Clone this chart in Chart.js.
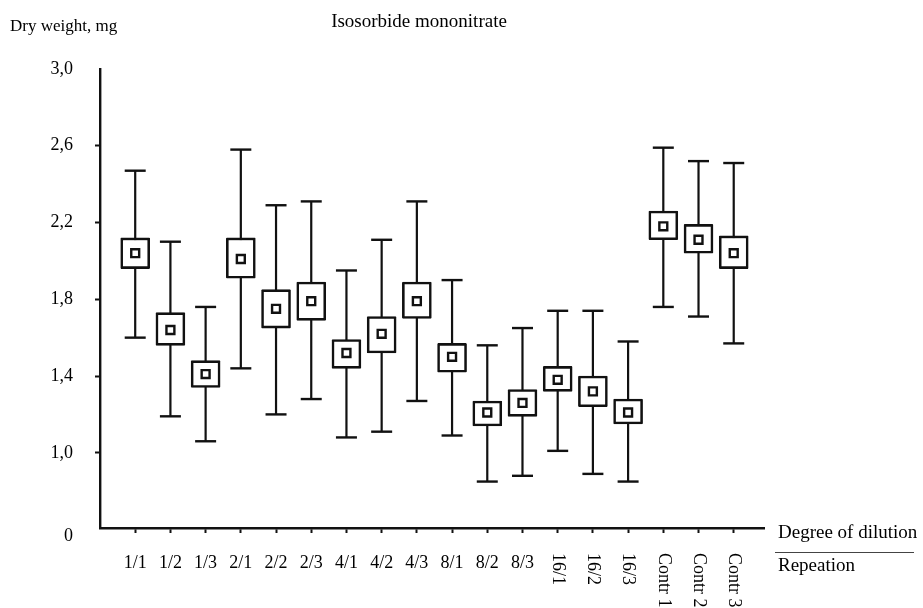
<!DOCTYPE html>
<html>
<head>
<meta charset="utf-8">
<script src="https://cdn.jsdelivr.net/npm/chart.js@4.4.0/dist/chart.umd.min.js"></script>
<style>body { margin: 0; background: #fff; }</style>
</head>
<body>
<canvas id="myChart" width="923" height="608"></canvas>
<script>
// Les donnees (poids sec, mg)
const groups = ["1/1", "1/2", "1/3", "2/1", "2/2", "2/3", "4/1", "4/2", "4/3", "8/1", "8/2", "8/3", "16/1", "16/2", "16/3", "Contr 1", "Contr 2", "Contr 3"]
const means = [2.04, 1.64, 1.41, 2.01, 1.75, 1.79, 1.52, 1.62, 1.79, 1.50, 1.21, 1.26, 1.38, 1.32, 1.21, 2.18, 2.11, 2.04]
const boxLow = [1.96, 1.56, 1.34, 1.91, 1.65, 1.69, 1.44, 1.52, 1.70, 1.42, 1.14, 1.19, 1.32, 1.24, 1.15, 2.11, 2.04, 1.96]
const boxHigh = [2.12, 1.73, 1.48, 2.12, 1.85, 1.89, 1.59, 1.71, 1.89, 1.57, 1.27, 1.33, 1.45, 1.40, 1.28, 2.26, 2.19, 2.13]
const whiskerLow = [1.60, 1.19, 1.06, 1.44, 1.20, 1.28, 1.08, 1.11, 1.27, 1.09, 0.85, 0.88, 1.01, 0.89, 0.85, 1.76, 1.71, 1.57]
const whiskerHigh = [2.47, 2.10, 1.76, 2.58, 2.29, 2.31, 1.95, 2.11, 2.31, 1.90, 1.56, 1.65, 1.74, 1.74, 1.58, 2.59, 2.52, 2.51]
const yTickValues = [0.566, 1.0, 1.4, 1.8, 2.2, 2.6, 3.0] // le premier = "0" (axe coupe)
const rotatedFrom = 12 // a partir de "16/1" les etiquettes sont verticales

const serif = '"Liberation Serif", "Times New Roman", serif'
const xs = groups.map((g, i) => i + 1)

// Moustaches : segments separes par des null
const whiskerData = []
const capData = []
xs.forEach((x, i) => {
    whiskerData.push({ x: x, y: whiskerLow[i] }, { x: x, y: whiskerHigh[i] }, { x: x, y: null })
    capData.push({ x: x, y: whiskerLow[i] }, { x: x, y: whiskerHigh[i] })
})
const boxData = xs.map((x, i) => ({ x: x, y: [boxLow[i], boxHigh[i]] }))
const meanData = xs.map((x, i) => ({ x: x, y: means[i] }))

// Textes dessines a la main (titre, legendes d'axes, etiquettes verticales)
const textPlugin = {
    id: "texts",
    afterDraw(chart) {
        const ctx = chart.ctx
        const xScale = chart.scales.x
        ctx.save()
        ctx.fillStyle = "#000"
        ctx.textBaseline = "middle"
        ctx.textAlign = "left"
        ctx.font = "17px " + serif
        ctx.fillText("Dry weight, mg", 10, 27)
        ctx.font = "19px " + serif
        ctx.textAlign = "center"
        ctx.fillText("Isosorbide mononitrate", 419, 22)
        ctx.textAlign = "left"
        ctx.fillText("Degree of dilution", 778, 533)
        ctx.fillText("Repeation", 778, 566)
        ctx.strokeStyle = "#444"
        ctx.lineWidth = 1
        ctx.beginPath()
        ctx.moveTo(775, 552.5)
        ctx.lineTo(914, 552.5)
        ctx.stroke()
        // etiquettes tournees
        ctx.font = "18px " + serif
        for (let i = rotatedFrom; i < groups.length; i++) {
            const px = xScale.getPixelForValue(xs[i])
            ctx.save()
            ctx.translate(px, 553)
            ctx.rotate(Math.PI / 2)
            ctx.textAlign = "left"
            ctx.fillText(groups[i], 0, 0)
            ctx.restore()
        }
        ctx.restore()
    }
}

const graph = document.getElementById("myChart")
// eslint-disable-next-line no-undef
new Chart(graph, {
    type: "bar",
    data: {
        datasets: [{
            type: "line",
            data: whiskerData,
            borderColor: "#111",
            borderWidth: 2.2,
            pointRadius: 0,
            spanGaps: false,
            order: 4
        }, {
            type: "line",
            data: capData,
            showLine: false,
            pointStyle: "line",
            pointRadius: 10.5,
            pointBorderWidth: 2.4,
            pointBorderColor: "#111",
            order: 3
        }, {
            type: "bar",
            data: boxData,
            backgroundColor: "#fff",
            borderColor: "#111",
            borderWidth: 2.6,
            borderSkipped: false,
            borderRadius: 1,
            barThickness: 29,
            order: 2
        }, {
            type: "line",
            data: meanData,
            showLine: false,
            pointStyle: "rect",
            pointRadius: 5.6,
            pointBorderWidth: 2.4,
            pointBorderColor: "#111",
            pointBackgroundColor: "#fff",
            order: 1
        }]
    },
    options: {
        responsive: false,
        animation: false,
        layout: { padding: { top: 69, right: 159, left: 0, bottom: 0 } },
        plugins: {
            legend: { display: false },
            tooltip: { enabled: false }
        },
        scales: {
            x: {
                type: "linear",
                min: 0,
                max: 18.86,
                offset: false,
                afterBuildTicks: scale => { scale.ticks = xs.map(v => ({ value: v })) },
                afterFit: scale => { scale.height = 80 },
                grid: { offset: false, drawOnChartArea: false, drawTicks: true, tickLength: 5, tickWidth: 2, tickColor: "#111" },
                border: { color: "#111", width: 2.4 },
                ticks: {
                    autoSkip: false,
                    maxRotation: 0,
                    minRotation: 0,
                    padding: 19,
                    color: "#000",
                    font: { family: serif, size: 18 },
                    callback: value => {
                        const i = Math.round(value) - 1
                        return i < rotatedFrom ? groups[i] : ""
                    }
                }
            },
            y: {
                type: "linear",
                min: 0.608,
                max: 3.0,
                afterBuildTicks: scale => { scale.ticks = yTickValues.map(v => ({ value: v })) },
                afterFit: scale => { scale.width = 100 },
                grid: {
                    drawOnChartArea: false,
                    drawTicks: true,
                    tickLength: 5,
                    tickWidth: 2,
                    tickColor: ctx => (ctx.tick && (ctx.tick.value < 1 || ctx.tick.value >= 3)) ? "rgba(0,0,0,0)" : "#111"
                },
                border: { color: "#111", width: 2.4 },
                ticks: {
                    padding: 22,
                    color: "#000",
                    font: { family: serif, size: 18 },
                    callback: value => value < 1 ? "0" : value.toFixed(1).replace(".", ",")
                }
            }
        }
    },
    plugins: [textPlugin]
})
</script>
</body>
</html>
